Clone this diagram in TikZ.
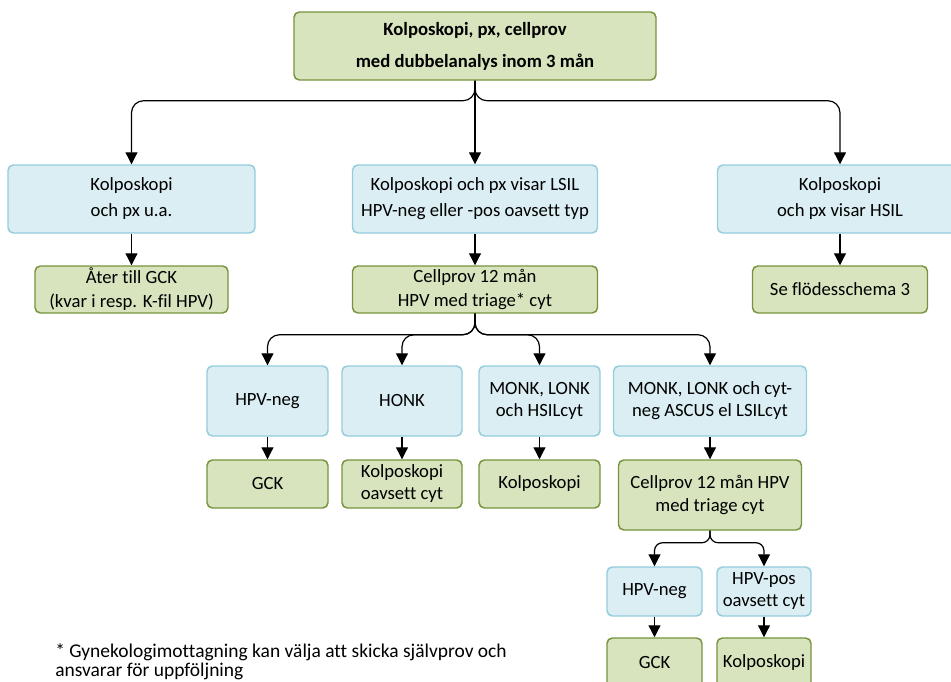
\documentclass[tikz,border=0pt]{standalone}
\usepackage{fontspec}
\setmainfont{Carlito}[Ligatures=CommonOff]
\usetikzlibrary{arrows.meta}
\definecolor{bfill}{RGB}{219,238,244}
\definecolor{bdraw}{RGB}{146,205,220}
\definecolor{gfill}{RGB}{215,228,189}
\definecolor{gdraw}{RGB}{119,147,60}
\begin{document}
\begin{tikzpicture}[x=0.75pt,y=-0.75pt,
 box/.style={rounded corners=4pt, line width=1.1pt, align=center, inner sep=0pt, font=\fontsize{14}{16.5}\selectfont},
 bbox/.style={box, fill=bfill, draw=bdraw},
 gbox/.style={box, fill=gfill, draw=gdraw},
 sz/.style 2 args={minimum width=#1*0.75pt, minimum height=#2*0.75pt},
 rtwo/.style={font=\fontsize{14}{19.5}\selectfont},
 rthree/.style={font=\fontsize{14}{18}\selectfont},
 arr/.style={-{Triangle[width=9pt,length=9pt]}, line width=0.9pt},
 br/.style={arr, rounded corners=9pt},
 brs/.style={arr, rounded corners=6pt},
]
\useasboundingbox (0,0) rectangle (951,682);
\clip (0,0) rectangle (951,682);

% top
\node[gbox, sz={362}{68}, font=\bfseries\fontsize{14}{24}\selectfont] (top) at (475,46) {Kolposkopi, px, cellprov\\med dubbelanalys inom 3 mån};

% row 2
\node[bbox, sz={247}{68}, rtwo] (a1) at (131.5,199) {Kolposkopi\\och px u.a.};
\node[bbox, sz={245}{68}, rtwo] (b1) at (475,199) {Kolposkopi och px visar LSIL\\HPV-neg eller -pos oavsett typ};
\node[bbox, sz={245}{68}, rtwo] (c1) at (840,199) {Kolposkopi\\och px visar HSIL};

% row 3
\node[gbox, sz={193}{47}, rthree] (a2) at (131.5,289.5) {Åter till GCK\\(kvar i resp. K-fil HPV)};
\node[gbox, sz={245}{47}, rthree] (b2) at (475,289.5) {Cellprov 12 mån\\HPV med triage* cyt};
\node[gbox, sz={175}{47}] (c2) at (840,289.5) {Se flödesschema 3};

% row 4
\node[bbox, sz={121}{70}] (d1) at (267.5,401) {HPV-neg};
\node[bbox, sz={120}{70}] (e1) at (402,401) {HONK};
\node[bbox, sz={121}{70}] (f1) at (539.5,401) {MONK, LONK\\och HSILcyt};
\node[bbox, sz={193}{70}] (g1) at (710,401) {MONK, LONK och cyt-\\neg ASCUS el LSILcyt};

% row 5
\node[gbox, sz={121}{48}] (d2) at (267.5,484) {GCK};
\node[gbox, sz={120}{48}] (e2) at (402,484) {Kolposkopi\\oavsett cyt};
\node[gbox, sz={121}{48}] (f2) at (539.5,484) {Kolposkopi};
\node[gbox, sz={183}{70}, font=\fontsize{14}{17}\selectfont] (g2) at (710,495) {Cellprov 12 mån HPV\\med triage cyt};

% row 6
\node[bbox, sz={95}{49}] (h1) at (654.5,591.5) {HPV-neg};
\node[bbox, sz={94}{49}] (i1) at (764,591.5) {HPV-pos\\oavsett cyt};

% row 7
\node[gbox, sz={95}{50}] (h2) at (654.5,663) {GCK};
\node[gbox, sz={94}{50}] (i2) at (764,663) {Kolposkopi};

% footnote
\node[anchor=north west, align=left, inner sep=0pt, font=\fontsize{14.6}{14.5}\selectfont] (fn) at (55,643) {* Gynekologimottagning kan välja att skicka självprov och\\ansvarar för uppföljning};

% connectors
\draw[br] (top.south) -- ++(0,20) -| (a1.north);
\draw[arr] (top.south) -- (b1.north);
\draw[br] (top.south) -- ++(0,20) -| (c1.north);

\draw[arr] (a1.south) -- (a2.north);
\draw[arr] (b1.south) -- (b2.north);
\draw[arr] (c1.south) -- (c2.north);

\draw[br] (b2.south) -- ++(0,21) -| (d1.north);
\draw[br] (b2.south) -- ++(0,21) -| (e1.north);
\draw[br] (b2.south) -- ++(0,21) -| (f1.north);
\draw[br] (b2.south) -- ++(0,21) -| (g1.north);

\draw[arr] (d1.south) -- (d2.north);
\draw[arr] (e1.south) -- (e2.north);
\draw[arr] (f1.south) -- (f2.north);
\draw[arr] (g1.south) -- (g2.north);

\draw[brs] (g2.south) -- ++(0,12) -| (h1.north);
\draw[brs] (g2.south) -- ++(0,12) -| (i1.north);

\draw[arr] (h1.south) -- (h2.north);
\draw[arr] (i1.south) -- (i2.north);
\end{tikzpicture}
\end{document}
